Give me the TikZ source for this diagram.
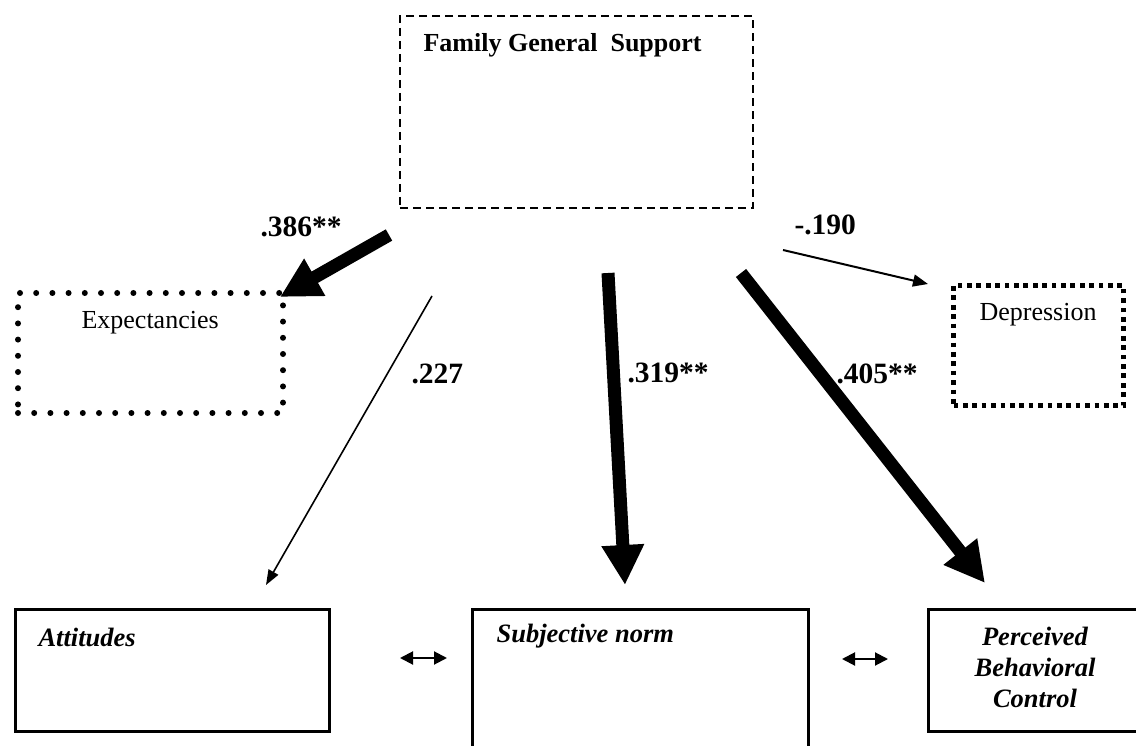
\documentclass[tikz,border=0pt]{standalone}
\usepackage{fontspec}
\setmainfont{Liberation Serif}
\usetikzlibrary{arrows.meta}

\begin{document}
\begin{tikzpicture}[x=1pt,y=-1pt,
  box/.style={draw, rectangle, inner sep=0pt, anchor=north west},
  solidbox/.style={box, line width=3pt},
  dashbox/.style={box, line width=2pt, dash pattern=on 8pt off 5pt},
  rounddots/.style={box, line width=6pt, line cap=round, dash pattern=on 0pt off 16.2pt},
  squaredots/.style={box, line width=5pt, dash pattern=on 4.7pt off 4.7pt},
  title/.style={anchor=base west, font=\fontsize{26}{31}\selectfont\bfseries},
  plain/.style={anchor=base west, font=\fontsize{26}{31}\selectfont},
  construct/.style={anchor=base west, font=\fontsize{26.5}{31}\selectfont\bfseries\itshape},
  coef/.style={anchor=base west, font=\fontsize{29.5}{34}\selectfont\bfseries},
  heavy/.style={line width=13pt, -{Triangle[length=40pt,width=40pt]}},
  light/.style={line width=1.6pt, -{Triangle[length=15pt,width=11pt]}},
  mutual/.style={line width=2pt, {Triangle[length=13pt,width=13pt]}-{Triangle[length=13pt,width=13pt]}}
]
\useasboundingbox (0,0) rectangle (1136,746);

% Boxes
\node[dashbox, minimum width=353pt, minimum height=192pt] (fam) at (399,15) {};
\node[rounddots, minimum width=265pt, minimum height=120pt] (exp) at (15,290) {};
\node[squaredots, minimum width=170pt, minimum height=120pt] (dep) at (951,283) {};
\node[solidbox, minimum width=314pt, minimum height=122pt] (att) at (14,608) {};
\node[solidbox, minimum width=336pt, minimum height=145pt] (sub) at (471,608) {};
\node[solidbox, minimum width=212pt, minimum height=122pt] (pbc) at (927,608) {};

% Box texts
\node[title] (tfam) at (420,52) {Family General\ \ Support};
\node[plain] (texp) at (78,329) {Expectancies};
\node[plain] (tdep) at (976,320) {Depression};
\node[construct] (tatt) at (35,646) {Attitudes};
\node[construct] (tsub) at (493,642) {Subjective norm};
\node[construct, anchor=base, align=center] (tpbc) at (1035,707)
  {Perceived\\Behavioral\\Control};

% Path end points
\coordinate (s386) at (389,235);
\coordinate (e386) at (280,297);
\coordinate (s227) at (432,296);
\coordinate (e227) at (266,585);
\coordinate (s319) at (608,273);
\coordinate (e319) at (625,585);
\coordinate (s405) at (741,273);
\coordinate (e405) at (985,583);
\coordinate (s190) at (783,250);
\coordinate (e190) at (928,284);
\coordinate (m1a) at (400,658);
\coordinate (m1b) at (447,658);
\coordinate (m2a) at (842,659);
\coordinate (m2b) at (888,659);

% Paths
\draw[heavy] (s386) -- (e386);
\draw[light] (s227) -- (e227);
\draw[heavy] (s319) -- (e319);
\draw[heavy] (s405) -- (e405);
\draw[line width=2pt, -{Triangle[length=15pt,width=12pt]}] (s190) -- (e190);
\draw[mutual] (m1a) -- (m1b);
\draw[mutual] (m2a) -- (m2b);

% Coefficients
\node[coef] (c386) at (257,237) {.386**};
\node[coef] (c227) at (408,383) {.227};
\node[coef] (c190) at (791,235) {-.190};
\node[coef] (c319) at (624,382) {.319**};
\node[coef] (c405) at (833,383) {.405**};
\end{tikzpicture}
\end{document}
